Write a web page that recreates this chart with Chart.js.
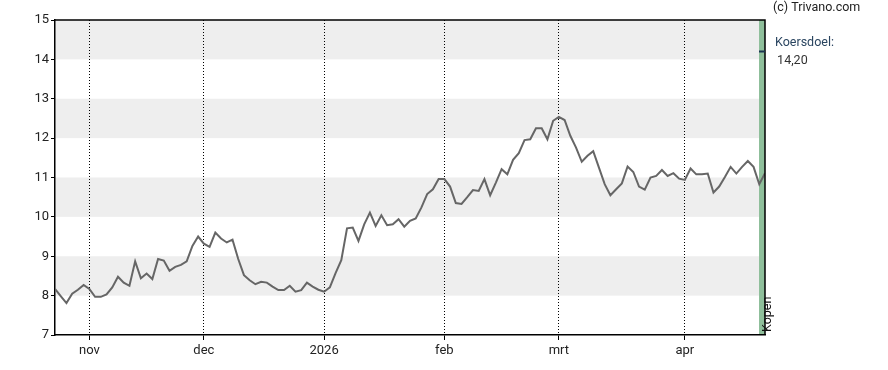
<!DOCTYPE html>
<html>
<head>
<meta charset="utf-8">
<script src="https://cdn.jsdelivr.net/npm/chart.js@4"></script>
<style>
  html, body { margin: 0; padding: 0; background: #fff; }
  #wrap { width: 888px; height: 370px; position: relative; }
</style>
</head>
<body>
<div id="wrap"><canvas id="myChart" width="888" height="370"></canvas></div>
<script>
// koers per handelsdag (okt 2025 - apr 2026)
const prices = [
  8.17, 7.99, 7.81, 8.05, 8.15, 8.27, 8.17, 7.97, 7.97, 8.03,
  8.21, 8.48, 8.33, 8.25, 8.87, 8.44, 8.56, 8.42, 8.93, 8.89,
  8.63, 8.73, 8.78, 8.87, 9.26, 9.50, 9.32, 9.24, 9.60, 9.45,
  9.35, 9.42, 8.93, 8.52, 8.39, 8.29, 8.35, 8.33, 8.23, 8.14,
  8.14, 8.25, 8.10, 8.14, 8.33, 8.23, 8.15, 8.10, 8.21, 8.57,
  8.90, 9.71, 9.73, 9.39, 9.81, 10.11, 9.77, 10.04, 9.79, 9.81,
  9.94, 9.75, 9.90, 9.96, 10.24, 10.58, 10.70, 10.96, 10.96, 10.77,
  10.35, 10.33, 10.50, 10.68, 10.66, 10.96, 10.55, 10.87, 11.21, 11.08,
  11.45, 11.62, 11.95, 11.97, 12.25, 12.25, 11.97, 12.44, 12.54, 12.46,
  12.06, 11.76, 11.40, 11.55, 11.67, 11.25, 10.83, 10.55, 10.70, 10.85,
  11.28, 11.14, 10.77, 10.69, 11.00, 11.04, 11.19, 11.04, 11.11, 10.97,
  10.94, 11.23, 11.08, 11.08, 11.10, 10.62, 10.77, 11.01, 11.27, 11.10,
  11.27, 11.42, 11.27, 10.83, 11.11
];
// eerste handelsdag van elke maand (index in prices)
const monthIndex = [6, 26, 47, 68, 88, 110];
const monthLabels = ['nov', 'dec', '2026', 'feb', 'mrt', 'apr'];
const yTicks = [7, 8, 9, 10, 11, 12, 13, 14, 15];
const bandRanges = [[8, 9], [10, 11], [12, 13], [14, 15]];
const koersdoel = 14.20;
const advies = 'Kopen';

const points = prices.map((v, i) => ({ x: i, y: v }));

const decor = {
  id: 'decor',
  beforeDraw(chart) {
    const { ctx, chartArea: a, scales: { y } } = chart;
    ctx.save();
    ctx.fillStyle = '#eeeeee';
    bandRanges.forEach(([lo, hi]) => {
      const t = y.getPixelForValue(hi), b = y.getPixelForValue(lo);
      ctx.fillRect(a.left, t, a.right - a.left, b - t);
    });
    // advies-balk
    ctx.fillStyle = '#8fbf9b';
    ctx.fillRect(a.right - 6, a.top, 6, a.bottom - a.top);
    ctx.restore();
  },
  afterDraw(chart) {
    const { ctx, chartArea: a, scales: { y } } = chart;
    ctx.save();
    ctx.strokeStyle = '#000';
    ctx.lineWidth = 1.5;
    ctx.beginPath();
    ctx.moveTo(a.left, a.top);
    ctx.lineTo(a.right, a.top);
    ctx.lineTo(a.right, a.bottom);
    ctx.stroke();

    const ky = y.getPixelForValue(koersdoel);
    ctx.strokeStyle = '#1c3550';
    ctx.lineWidth = 2;
    ctx.beginPath();
    ctx.moveTo(a.right - 6, ky);
    ctx.lineTo(a.right, ky);
    ctx.stroke();

    ctx.textBaseline = 'middle';
    ctx.textAlign = 'left';
    ctx.font = '12.5px Roboto';
    ctx.fillStyle = '#222';
    ctx.fillText('(c) Trivano.com', 773, 8);
    ctx.fillStyle = '#2a4560';
    ctx.fillText('Koersdoel:', 775, 43);
    ctx.fillStyle = '#333';
    ctx.fillText(' ' + koersdoel.toFixed(2).replace('.', ','), 774, 61);

    ctx.translate(768, a.bottom - 3);
    ctx.rotate(-Math.PI / 2);
    ctx.fillStyle = '#111';
    ctx.font = '12.5px Roboto';
    ctx.fillText(advies, 0, 0);
    ctx.restore();
  }
};

new Chart(document.getElementById('myChart').getContext('2d'), {
  type: 'line',
  data: {
    datasets: [{
      data: points,
      borderColor: '#666666',
      borderWidth: 2,
      pointRadius: 0,
      tension: 0,
      fill: false
    }]
  },
  options: {
    responsive: false,
    animation: false,
    events: [],
    layout: { padding: { left: 0, right: 123, top: 20, bottom: 0 } },
    scales: {
      x: {
        type: 'linear',
        min: 0,
        max: prices.length - 1,
        afterBuildTicks(scale) {
          scale.ticks = monthIndex.map(v => ({ value: v }));
        },
        afterFit(scale) { scale.height = 35; },
        ticks: {
          autoSkip: false,
          maxRotation: 0,
          padding: 3,
          color: '#222',
          font: { family: 'Roboto', size: 13 },
          callback(value) {
            const k = monthIndex.indexOf(value);
            return k >= 0 ? monthLabels[k] : '';
          }
        },
        grid: {
          color: '#000',
          lineWidth: 1,
          tickLength: 5,
          tickBorderDash: []
        },
        border: { display: true, color: '#000', width: 1.5, dash: [1, 2] }
      },
      y: {
        min: 7,
        max: 15,
        afterBuildTicks(scale) {
          scale.ticks = yTicks.map(v => ({ value: v }));
        },
        afterFit(scale) { scale.width = 55; },
        ticks: {
          padding: 2,
          color: '#222',
          font: { family: 'Roboto', size: 13 }
        },
        grid: {
          drawOnChartArea: false,
          color: '#000',
          tickLength: 4
        },
        border: { display: true, color: '#000', width: 1.5 }
      }
    },
    plugins: {
      legend: { display: false },
      tooltip: { enabled: false }
    }
  },
  plugins: [decor]
});
</script>
</body>
</html>
